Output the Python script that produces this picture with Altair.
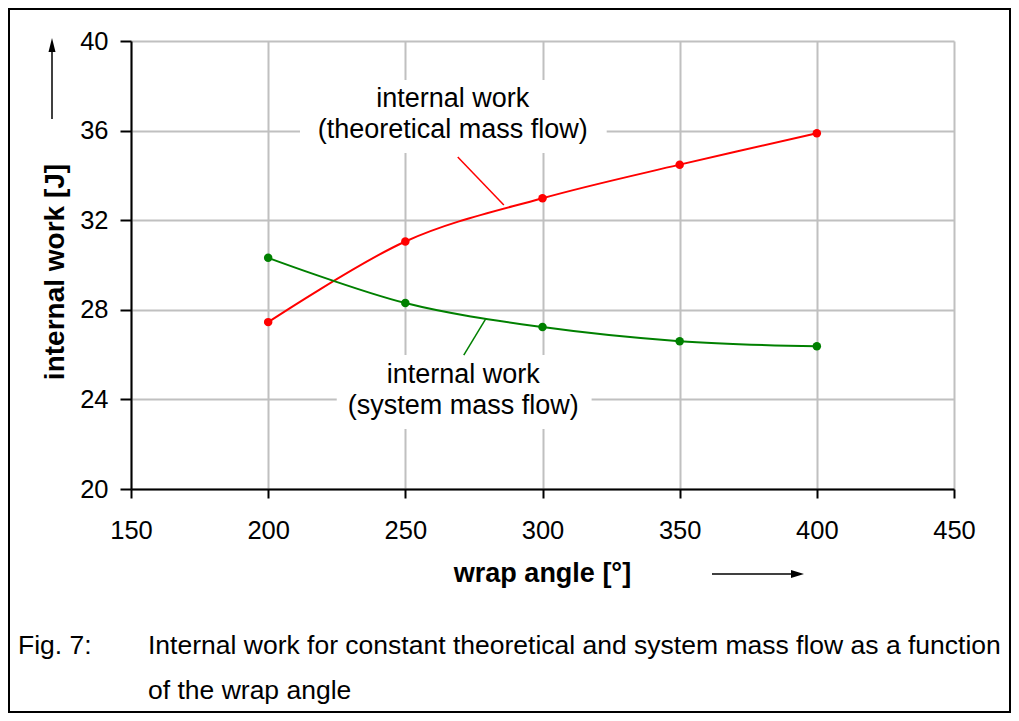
import altair as alt
import pandas as pd

# ---- data ----
angles = [200, 250, 300, 350, 400]
work_theoretical = [27.45, 31.05, 32.98, 34.48, 35.88]
work_system = [30.32, 28.30, 27.23, 26.60, 26.37]
series_names = ["theoretical", "system"]
series_colors = ["#ff0000", "#008000"]

x_ticks = [150, 200, 250, 300, 350, 400, 450]
y_ticks = [20, 24, 28, 32, 36, 40]

# annotation labels (data coordinates)
label_text = ["internal work", "(theoretical mass flow)", "internal work", "(system mass flow)"]
label_angle = [267.3, 267.3, 271.1, 271.1]
label_work = [37.05, 35.67, 24.73, 23.35]

box_angle1 = [211.6, 225.0]
box_angle2 = [323.4, 317.9]
box_work1 = [38.26, 25.98]
box_work2 = [35.00, 22.68]

leader_series = ["theoretical", "system"]
leader_angle1 = [269.1, 271.3]
leader_work1 = [34.82, 25.98]
leader_angle2 = [285.9, 279.3]
leader_work2 = [32.68, 27.59]

caption_lines = ["Internal work for constant theoretical and system mass flow as a function",
                 "of the wrap angle"]

FONT = "Liberation Sans"

df = pd.DataFrame({
    "angle": angles * 2,
    "work": work_theoretical + work_system,
    "series": [series_names[0]] * len(angles) + [series_names[1]] * len(angles),
})
labels_df = pd.DataFrame({"angle": label_angle, "work": label_work, "text": label_text})
boxes_df = pd.DataFrame({"angle": box_angle1, "angle2": box_angle2,
                         "work": box_work1, "work2": box_work2})
leaders_df = pd.DataFrame({"angle": leader_angle1, "work": leader_work1,
                           "angle2": leader_angle2, "work2": leader_work2,
                           "series": leader_series})

xs = alt.Scale(domain=[150, 450], nice=False, zero=False)
ys = alt.Scale(domain=[20, 40], nice=False, zero=False)
cs = alt.Scale(domain=series_names, range=series_colors)

x_axis = alt.Axis(values=x_ticks, title=None, grid=True, gridColor="#c0c0c0", gridWidth=2,
                  domainColor="black", domainWidth=2, tickColor="black", tickWidth=2,
                  tickSize=9, labelFontSize=25.5, labelFont=FONT, labelColor="black",
                  labelPadding=20, labelFlush=False, labelOverlap=False, format="d")
y_axis = alt.Axis(values=y_ticks, title=None, grid=True, gridColor="#c0c0c0", gridWidth=2,
                  domainColor="black", domainWidth=2, tickColor="black", tickWidth=2,
                  tickSize=11, labelFontSize=25.5, labelFont=FONT, labelColor="black",
                  labelPadding=12, labelFlush=False, labelOverlap=False, format="d")

X = alt.X("angle:Q", scale=xs, axis=x_axis, title=None)
Y = alt.Y("work:Q", scale=ys, axis=y_axis, title=None)

boxes = alt.Chart(boxes_df).mark_rect(color="white").encode(
    x=X, x2="angle2:Q", y=Y, y2="work2:Q")

lines = alt.Chart(df).mark_line(interpolate="cardinal", strokeWidth=2).encode(
    x=X, y=Y, color=alt.Color("series:N", scale=cs, legend=None))

points = alt.Chart(df).mark_point(filled=True, size=72, opacity=1).encode(
    x=X, y=Y, color=alt.Color("series:N", scale=cs, legend=None))

leaders = alt.Chart(leaders_df).mark_rule(strokeWidth=1.5).encode(
    x=X, y=Y, x2="angle2:Q", y2="work2:Q",
    color=alt.Color("series:N", scale=cs, legend=None))

labels = alt.Chart(labels_df).mark_text(font=FONT, fontSize=27, color="black",
                                        align="center", baseline="alphabetic").encode(
    x=X, y=Y, text="text:N")

one = pd.DataFrame({"k": [0]})

y_title = alt.Chart(one).mark_text(text="internal work [J]", font=FONT, fontSize=28,
                                   fontWeight="bold", angle=270, align="center",
                                   baseline="middle", color="black").encode(
    x=alt.value(-75), y=alt.value(231))
x_title = alt.Chart(one).mark_text(text="wrap angle [°]", font=FONT, fontSize=27,
                                   fontWeight="bold", align="center",
                                   baseline="alphabetic", color="black").encode(
    x=alt.value(411.5), y=alt.value(541))

y_arrow_line = alt.Chart(one).mark_rule(color="black", strokeWidth=1.5).encode(
    x=alt.value(-79), y=alt.value(8), y2=alt.value(78))
y_arrow_head = alt.Chart(one).mark_point(shape="M0,-1L0.5,1L-0.5,1Z", filled=True,
                                         color="black", size=196, opacity=1).encode(
    x=alt.value(-79), y=alt.value(4))
x_arrow_line = alt.Chart(one).mark_rule(color="black", strokeWidth=1.5).encode(
    x=alt.value(581), x2=alt.value(662), y=alt.value(533))
x_arrow_head = alt.Chart(one).mark_point(shape="M1,0L-1,0.6L-1,-0.6Z", filled=True,
                                         color="black", size=169, opacity=1).encode(
    x=alt.value(666.5), y=alt.value(533))

cap_fig = alt.Chart(one).mark_text(text="Fig. 7:", font=FONT, fontSize=26.5, color="black",
                                   align="left", baseline="alphabetic").encode(
    x=alt.value(-113), y=alt.value(613))
cap1 = alt.Chart(one).mark_text(text=caption_lines[0], font=FONT, fontSize=26.5, color="black",
                                align="left", baseline="alphabetic").encode(
    x=alt.value(17), y=alt.value(613))
cap2 = alt.Chart(one).mark_text(text=caption_lines[1], font=FONT, fontSize=26.5, color="black",
                                align="left", baseline="alphabetic").encode(
    x=alt.value(17), y=alt.value(658))

frame = alt.Chart(one).mark_rect(fillOpacity=0, stroke="black", strokeWidth=2).encode(
    x=alt.value(-122), x2=alt.value(879), y=alt.value(-32), y2=alt.value(671))

chart = alt.layer(
    boxes, lines, points, leaders, labels, y_title, x_title,
    y_arrow_line, y_arrow_head, x_arrow_line, x_arrow_head,
    cap_fig, cap1, cap2, frame
).properties(
    width=823, height=448,
    padding={"left": 123, "top": 33, "right": 57, "bottom": 224},
    autosize=alt.AutoSizeParams(type="none"),
    background="white",
).configure_view(stroke=None)

chart.save("out.html", embed_options={"renderer": "svg", "actions": False})
